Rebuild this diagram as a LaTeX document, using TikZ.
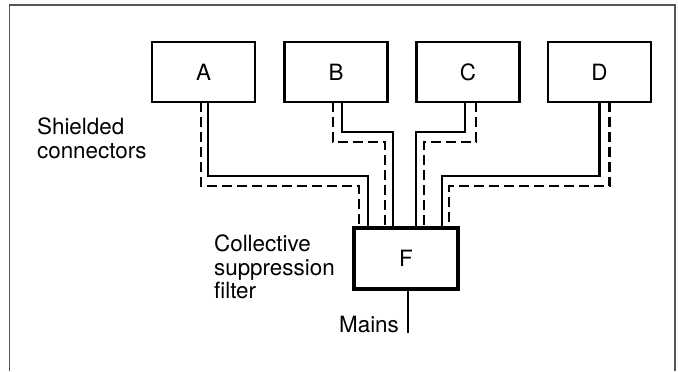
\documentclass[tikz,border=0pt]{standalone}
\usepackage{fontspec}
\setmainfont{TeX Gyre Heros}
\usetikzlibrary{positioning}

\begin{document}
\begin{tikzpicture}[x=1bp,y=-1bp,line width=2.2bp,
    unit/.style={draw,minimum width=103bp,minimum height=60bp,outer sep=0pt,inner sep=0pt},
    filt/.style={unit,line width=3.8bp,minimum width=104bp,minimum height=61bp},
    wire/.style={line cap=butt},
    shield/.style={line cap=butt,dash pattern=on 10bp off 5bp},
    lbl/.style={align=left,inner sep=0pt,anchor=north west}]

  \definecolor{frame}{RGB}{85,85,85} % grey

  \fontsize{22.5}{23.5}\selectfont
  \useasboundingbox (0,0) rectangle (678,371);

  % Outer frame
  \draw[frame,line width=1.5bp] (9.5,371) -- (9.5,5) -- (675,5) -- (675,371);

  % Connected units
  \node[unit] (a) at (203.5,72) {A};
  \node[unit] (b) at (336,72) {B};
  \node[unit] (c) at (468,72) {C};
  \node[unit] (d) at (599.5,72) {D};

  % Filter
  \node[filt] (f) at (406,258.5) {F};

  % Draw inner wires
  \draw[wire] ([xshift=4.5bp]a.south) -- ++(0,74) -| ([xshift=-38bp]f.north);
  \draw[wire] ([xshift=6bp]b.south) -- ++(0,30) -| ([xshift=-13bp]f.north);
  \draw[wire] ([xshift=-3bp]c.south) -- ++(0,30) -| ([xshift=10bp]f.north);
  \draw[wire] (d.south) -- ++(0,74) -| ([xshift=36bp]f.north);

  % Draw shields
  \draw[shield] ([xshift=-2.5bp]a.south) -- ++(0,84) -| ([xshift=-47bp]f.north);
  \draw[shield] ([xshift=-3bp]b.south) -- ++(0,40) -| ([xshift=-21bp]f.north);
  \draw[shield] ([xshift=8bp]c.south) -- ++(0,40) -| ([xshift=18bp]f.north);
  \draw[shield] ([xshift=10bp]d.south) -- ++(0,84) -| ([xshift=43bp]f.north);

  % Mains lead
  \draw ([xshift=2bp]f.south) -- ++(0,44) coordinate (mains);
  \node[anchor=base east,inner sep=0pt] (mainslbl) at ([xshift=-8bp,yshift=1bp]mains) {Mains};

  % Labels
  \node[lbl] (shieldlbl) at (36,117) {Shielded\\connectors};
  \node[lbl] (filtlbl) at (213,234) {Collective\\suppression\\filter};

\end{tikzpicture}
\end{document}
